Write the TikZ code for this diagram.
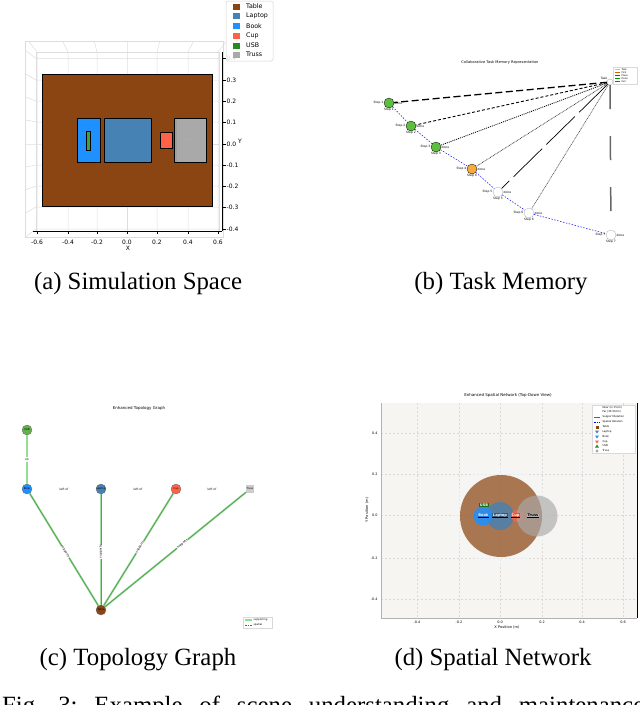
\documentclass[tikz,border=0pt]{standalone}
\usepackage{fontspec}
\setmainfont{Liberation Serif}
\newfontfamily\plotfont{DejaVu Sans}
\usetikzlibrary{shapes.geometric}
\definecolor{tablebrown}{HTML}{8B4513}
\definecolor{laptopblue}{HTML}{4682B4}
\definecolor{bookblue}{HTML}{1E90FF}
\definecolor{cupred}{HTML}{FF6347}
\definecolor{usbgreen}{HTML}{228B22}
\definecolor{usbpatch}{HTML}{3DA33D}
\definecolor{trussgray}{HTML}{A9A9A9}
\definecolor{gridc}{HTML}{DDDDDD}
\definecolor{nodegreen}{HTML}{5DBE3F}
\definecolor{nodeorange}{HTML}{F5AC3C}
\definecolor{edgegreen}{HTML}{4CA64C}
\definecolor{edgelight}{HTML}{A6DBA6}
\definecolor{panelbg}{HTML}{F7F5F2}
\newcommand{\plotsz}[1]{\plotfont\fontsize{#1}{#1}\selectfont}
\tikzset{
  capt/.style={font=\fontsize{24.8}{28}\selectfont, anchor=base, inner sep=0},
  ticklab/.style={font=\plotsz{6}, inner sep=0},
  leglab/.style={font=\plotsz{6.3}, anchor=west, inner sep=0},
  tinylab/.style={font=\plotsz{3}, inner sep=0.3},
  objbox/.style={draw=black, line width=0.8},
  mnode/.style={circle, minimum size=10, inner sep=0, draw=black, line width=0.3},
  tnode/.style={circle, minimum size=10, inner sep=0, draw=black!60, line width=0.3, font=\plotsz{2.6}},
  gridline/.style={draw=gridc, line width=0.5},
  chain/.style={draw=blue!85, line width=0.6, dash pattern=on 1.5 off 1.5},
  supp/.style={draw=edgegreen, line width=0.8},
  supphalo/.style={draw=edgelight, line width=2},
  dgrid/.style={draw=gray!30, line width=0.4, dash pattern=on 2 off 2},
  dlab/.style={font=\plotsz{3.6}\bfseries, inner sep=0.6, text=white},
}
\begin{document}
\begin{tikzpicture}[x=1pt,y=-1pt]
\useasboundingbox (0,0) rectangle (640,705);
\clip (0,0) rectangle (640,705);

% ================= (a) Simulation Space =================
\draw[gridline] (25,41) rectangle (223,237);
\draw[gridline] (36,52) rectangle (219,231);
\foreach \x in {37,68,97,127,157,188,218} {
  \draw[gridline] ({127+(\x-127)*1.094},41) -- (\x,52) -- (\x,231);
}
\foreach \y in {58.5,80,101,122,144,165,186,207,229} {
  \draw[gridline] (25,{144+(\y-144)*1.1}) -- (36,\y) -- (219,\y);
}
\filldraw[objbox, fill=tablebrown] (42,74) rectangle (212,206);
\filldraw[objbox, fill=bookblue] (77,118) rectangle (100,162);
\filldraw[objbox, fill=usbpatch, line width=0.6] (86.5,131) rectangle (90,150);
\filldraw[objbox, fill=laptopblue] (104,118) rectangle (151,162);
\filldraw[objbox, fill=cupred] (160.5,132) rectangle (172,148);
\filldraw[objbox, fill=trussgray] (174,118) rectangle (206,162);
\fill[gray!75] (174.5,118.5) rectangle (176.5,161.5);
\node[tinylab, text=gray!60] at (190,139) {Truss};
% axes
\draw[black, line width=0.6] (33,231) -- (222,231);
\foreach \x/\l in {37/-0.6,68/-0.4,97/-0.2,127/0.0,157/0.2,188/0.4,218/0.6} {
  \draw[black, line width=0.6] (\x,231) -- (\x,234);
  \node[ticklab] at (\x,242) {\l};
}
\node[ticklab] (xl) at (128,248) {X};
\draw[black, line width=0.6] (222,52) -- (222,231);
\foreach \y/\l in {58.5/0.4,80/0.3,101/0.2,122/0.1,144/0.0,165/-0.1,186/-0.2,207/-0.3,229/-0.4} {
  \draw[black, line width=0.6] (222,\y) -- (226,\y);
  \node[ticklab, anchor=west] at (226.5,\y) {\l};
}
\node[ticklab] (yl) at (240,141) {Y};
% legend
\filldraw[draw=gray!35, fill=white, fill opacity=0.85, rounded corners=1.5, line width=0.5] (226,1) rectangle (273,61);
\foreach \y/\c/\t in {6.5/tablebrown/Table,16/laptopblue/Laptop,26/bookblue/Book,36/cupred/Cup,45.5/usbgreen/USB,54.5/trussgray/Truss} {
  \fill[\c] (232.5,\y-3) rectangle (239.5,\y+3);
  \node[leglab] at (246,\y) {\t};
}
\node[capt] (capa) at (138,289) {(a) Simulation Space};

% ================= (b) Task Memory =================
\node[tinylab, font=\plotsz{3.6}] (titb) at (500,63) {Collaborative Task Memory Representation};
\node[circle, minimum size=6, inner sep=0, draw=gray!60, fill=white] (hub) at (610,82) {};
\node[mnode, fill=nodegreen] (m1) at (389,103) {};
\node[mnode, fill=nodegreen] (m2) at (411,126) {};
\node[mnode, fill=nodegreen] (m3) at (436,147) {};
\node[mnode, fill=nodeorange] (m4) at (472,169) {};
\node[mnode, fill=white, draw=gray!70] (m5) at (498,192) {};
\node[mnode, fill=white, draw=gray!70] (m6) at (529,213) {};
\node[mnode, fill=white, draw=gray!70] (m7) at (611,235) {};
\draw[line width=1.3, dash pattern=on 7 off 3.5] (hub) -- (m1);
\draw[line width=0.9, dash pattern=on 3 off 2] (hub) -- (m2);
\draw[line width=0.8, dash pattern=on 1 off 1] (hub) -- (m3);
\draw[line width=0.7, black!80, dash pattern=on 0.8 off 0.8] (hub) -- (m4);
\draw[line width=0.7, dash pattern=on 40 off 6] (hub) -- (m5);
\draw[line width=0.6, black!70, dash pattern=on 1 off 0.7] (hub) -- (m6);
\draw[line width=1.5, gray!80!black, dash pattern=on 24 off 27] (hub) -- (m7);
\draw[chain] (m1) -- (m2) -- (m3) -- (m4) -- (m5) -- (m6) -- (m7);
\foreach \n/\t in {m1/Step 1,m2/Step 2,m3/Step 3,m4/Step 4,m5/Step 5,m6/Step 6,m7/Step 7} {
  \node[tinylab, anchor=north] at ([yshift=0.5]\n.south) {\t};
  \node[tinylab, anchor=east] at (\n.west) {\t};
  \node[tinylab, anchor=west] at (\n.east) {done};
}
\node[tinylab, anchor=south east] at (hub.north west) {Task};
\filldraw[draw=gray!30, fill=white, line width=0.3] (613,67) rectangle (637,84);
\foreach \y/\c/\t in {69.5/gray!50/Task,72.5/orange!80!black/Pick,75.5/black!70/Place,78.5/green!60!black/Done,81.5/tablebrown/Fail} {
  \draw[\c, line width=1.2] (615,\y) -- (620,\y);
  \node[tinylab, font=\plotsz{2.4}, anchor=west] at (621,\y) {\t};
}
\node[capt] (capb) at (501,289) {(b) Task Memory};

% ================= (c) Topology Graph =================
\node[tinylab, font=\plotsz{4}] (titc) at (139,408) {Enhanced Topology Graph};
\node[tnode, fill=nodegreen!80!gray] (cusb) at (27,430) {USB};
\node[tnode, fill=bookblue] (cbook) at (27,489) {Book};
\node[tnode, fill=laptopblue] (claptop) at (101,489) {Laptop};
\node[tnode, fill=cupred] (ccup) at (176,489) {Cup};
\node[tnode, fill=gray!40, draw=none, shape=rectangle, minimum size=8] (ctruss) at (250,489) {Truss};
\node[tnode, fill=tablebrown] (ctable) at (101,610) {Table};
\draw[draw=edgelight!90!green, line width=2.2] (cusb) -- node[fill=white, tinylab, font=\plotsz{3}, inner sep=1.5] {on} (cbook);
\foreach \n/\p in {cbook/0.48,claptop/0.48,ccup/0.52,ctruss/0.55} {
  \draw[supphalo] (ctable) -- (\n);
  \draw[supp] (ctable) -- node[pos=\p, sloped, tinylab, fill=white] {supports} (\n);
}
\node[tinylab] at (64,489) {left of};
\node[tinylab] at (138,489) {left of};
\node[tinylab] at (212,489) {left of};
\filldraw[draw=gray!30, fill=white, line width=0.3] (243,617) rectangle (272,628);
\draw[edgelight!80!green, line width=1.3] (245,620) -- (252,620);
\node[tinylab, font=\plotsz{2.6}, anchor=west] at (253,620) {supporting};
\draw[blue!70, line width=0.8, dash pattern=on 1.5 off 1] (245,625) -- (252,625);
\node[tinylab, font=\plotsz{2.6}, anchor=west] at (253,625) {spatial};
\node[capt] (capc) at (138,665.5) {(c) Topology Graph};

% ================= (d) Spatial Network =================
\node[tinylab, font=\plotsz{4}] (titd) at (508,395) {Enhanced Spatial Network (Top-Down View)};
\fill[panelbg] (381,403) rectangle (637,618);
\foreach \x in {417,459,500,542,582,623} { \draw[dgrid] (\x,403) -- (\x,618); }
\foreach \y in {433,474,515,558,599} { \draw[dgrid] (381,\y) -- (637,\y); }
\draw[gray!60, line width=0.5] (381,403) -- (381,618) -- (637,618);
\draw[black, line width=1] (637,403) -- (637,618);
\foreach \x/\l in {417/-0.4,459/-0.2,500/0.0,542/0.2,582/0.4,623/0.6} {
  \node[tinylab, font=\plotsz{3.4}] at (\x,622.5) {\l};
}
\foreach \y/\l in {433/0.4,474/0.2,515/0.0,558/-0.2,599/-0.4} {
  \node[tinylab, font=\plotsz{3.4}, anchor=east] at (378,\y) {\l};
}
\node[tinylab, font=\plotsz{3.6}] at (507,627.5) {X Position (m)};
\node[tinylab, font=\plotsz{3.6}, rotate=90] at (367,510) {Y Position (m)};
\fill[gray!8, opacity=0.6] (501,516) circle (50);
\fill[tablebrown, opacity=0.72] (501,516) circle (41);
\fill[laptopblue, opacity=0.8] (500,516) circle (14);
\fill[bookblue, opacity=0.85] (483,516) circle (9.5);
\fill[cupred, opacity=0.7] (517,516) circle (6);
\fill[trussgray, opacity=0.65] (537,516) circle (20.5);
\node[dlab, fill=usbgreen!80!black] (dusb) at (484,505) {USB};
\node[dlab, fill=bookblue!85!black] (dbook) at (483.5,515.5) {Book};
\node[dlab, fill=laptopblue!70!black] (dlaptop) at (500,515.5) {Laptop};
\node[dlab, fill=cupred!85!black] (dcup) at (515.5,515.5) {Cup};
\node[dlab, fill=gray!60, text=black] (dtruss) at (533,515.5) {Truss};
\foreach \n in {dbook,dlaptop,dcup,dtruss} {
  \draw[black, line width=0.9] ([yshift=0.4]\n.south west) -- ([yshift=0.4]\n.south east);
}
% legend (d)
\filldraw[draw=gray!30, fill=white, line width=0.3] (592,405) rectangle (635,453);
\node[tinylab, font=\plotsz{2.6}, anchor=west] at (602,407.5) {Near (in 15cm)};
\node[tinylab, font=\plotsz{2.6}, anchor=west] at (602,412) {Far (30-50cm)};
\draw[usbgreen, line width=0.9] (594,417) -- (600,417);
\node[tinylab, font=\plotsz{2.6}, anchor=west] at (602,417) {Support Relation};
\draw[blue, line width=0.9, dash pattern=on 1.5 off 1] (594,422) -- (600,422);
\node[tinylab, font=\plotsz{2.6}, anchor=west] at (602,422) {Spatial Relation};
\fill[tablebrown] (595.5,425.5) rectangle (598.5,428.5);
\node[tinylab, font=\plotsz{2.6}, anchor=west] at (602,427) {Table};
\foreach \y/\c/\t in {432/laptopblue/Laptop,437/bookblue/Book,442/cupred/Cup} {
  \fill[\c] (595,\y-1.5) -- (599,\y-1.5) -- (597,\y+1.5) -- cycle;
  \node[tinylab, font=\plotsz{2.6}, anchor=west] at (602,\y) {\t};
}
\fill[usbgreen] (595,447.5) -- (599,447.5) -- (597,444.5) -- cycle;
\node[tinylab, font=\plotsz{2.6}, anchor=west] at (602,446) {USB};
\fill[trussgray] (597,451) circle (1.6);
\node[tinylab, font=\plotsz{2.6}, anchor=west] at (602,451) {Truss};
\node[capt] (capd) at (493,665.5) {(d) Spatial Network};

% ================= Figure caption (cut off at the bottom edge, as in the reference) =================
\node[capt, anchor=base west] (figcap) at (2,713.5) {\frenchspacing\makebox[642pt][s]{Fig.~3: Example of scene understanding and maintenance}};
\end{tikzpicture}
\end{document}
